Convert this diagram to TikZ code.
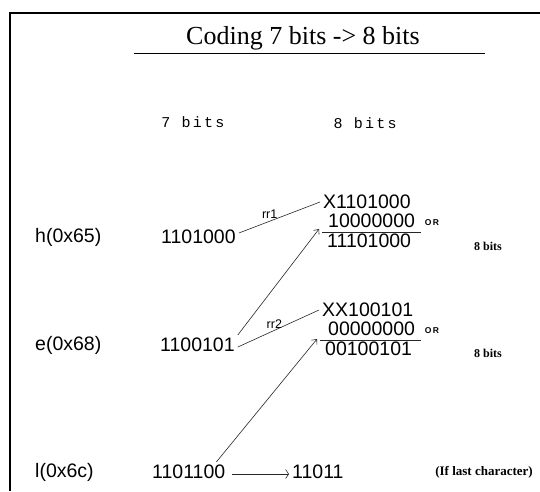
\documentclass[tikz,border=0pt]{standalone}
\usepackage{fontspec}
\setmainfont{Liberation Serif}
\newfontfamily\ar{Liberation Sans}
\newfontfamily\mo[LetterSpace=15]{Liberation Mono}
\usetikzlibrary{arrows.meta}
\begin{document}
\begin{tikzpicture}[x=1pt,y=-1pt,
  num/.style={font=\ar\fontsize{19.5}{23}\selectfont, inner sep=3pt, anchor=west},
  head/.style={font=\mo\fontsize{15}{17}\selectfont, inner sep=0pt},
  small/.style={font=\ar\fontsize{12.5}{14}\selectfont, inner sep=1pt},
  orlab/.style={font=\ar\bfseries\fontsize{8.5}{10}\selectfont, inner sep=0pt},
  note/.style={font=\bfseries\fontsize{12}{14}\selectfont, inner sep=0pt},
  conn/.style={draw=black!85, line width=0.6pt},
  arr/.style={conn, -{Straight Barb[length=4pt,width=7pt]}}]
\useasboundingbox (0,0) rectangle (540,491);
\draw[line width=2.5pt] (10,491) -- (10,13) -- (540,13);
% title
\node[font=\fontsize{26}{30}\selectfont, inner sep=0pt] (title) at (303,38) {Coding 7 bits -> 8 bits};
\coordinate (ul1) at (134,53);
\coordinate (ul2) at (485,53);
\draw[line width=1pt] (ul1) -- (ul2);
% column heads
\node[head] (c7) at (193,122) {7 bits};
\node[head] (c8) at (365,123) {8 bits};
% h row
\node[num] (hname) at (32,237) {h(0x65)};
\node[num] (h7) at (158,237) {1101000};
\node[num] (hx) at (320,202) {X1101000};
\node[num] (hm) at (325,221) {10000000};
\node[num] (hr) at (324,241) {11101000};
\coordinate (hl1) at (322,232);
\coordinate (hl2) at (421,232);
\draw[conn] (hl1) -- (hl2);
\node[orlab] (hor) at (432,223) {O\,R};
\node[note] (hbits) at (488,246) {8 bits};
% e row
\node[num] (ename) at (32,345) {e(0x68)};
\node[num] (e7) at (157,345) {1100101};
\node[num] (ex) at (319,310) {XX100101};
\node[num] (em) at (325,329) {00000000};
\node[num] (er) at (322,349) {00100101};
\coordinate (el1) at (320,340);
\coordinate (el2) at (421,340);
\draw[conn] (el1) -- (el2);
\node[orlab] (eor) at (432,331) {O\,R};
\node[note] (ebits) at (488,353) {8 bits};
% l row
\node[num] (lname) at (32,472) {l(0x6c)};
\node[num] (l7) at (149,472) {1101100};
\node[num] (l5) at (289,472) {11011};
\node[note, anchor=east, font=\bfseries\fontsize{13}{15}\selectfont] (lnote) at (533,472) {(If last character)};
% connectors
\coordinate (htip) at (319,229);
\coordinate (etip) at (317,339);
\draw[conn] ([yshift=4pt]h7.east) -- node[small, above, pos=0.38, yshift=1pt] (rr1) {rr1} (hx.west);
\draw[conn] ([yshift=-2pt]e7.east) -- node[small, above, pos=0.45, yshift=1pt] (rr2) {rr2} (ex.west);
\draw[arr] (e7.north east) -- (htip);
\draw[arr] ([xshift=-12pt]l7.north east) -- (etip);
\draw[conn, -{Straight Barb[length=3pt,width=9pt]}] ([yshift=-2pt,xshift=4pt]l7.east) -- ([yshift=-2pt]l5.west);
\end{tikzpicture}
\end{document}
